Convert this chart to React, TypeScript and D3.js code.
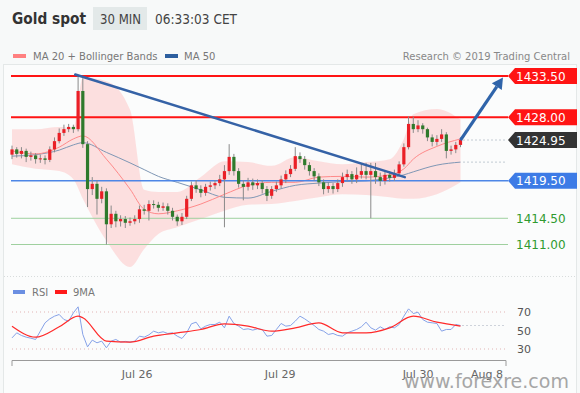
import React from 'react';
import * as d3 from 'd3';

// 30 min candles, Gold spot (closes, highs, lows); open = previous close
const firstOpen = 1423.0;
const closes = [
  1423.7, 1423.1, 1423.5, 1422.7, 1422.9, 1422.4, 1422.5, 1422.3, 1423.7, 1424.8,
  1425.9, 1426.4, 1426.7, 1426.4, 1431.5, 1424.4, 1418.4, 1419.1, 1417.1, 1418.1,
  1413.7, 1415.1, 1414.1, 1414.4, 1413.9, 1414.1, 1414.4, 1415.7, 1415.5, 1416.4,
  1416.3, 1415.9, 1416.1, 1415.5, 1414.7, 1414.1, 1414.7, 1417.1, 1418.9, 1418.4,
  1417.9, 1418.7, 1418.9, 1419.2, 1419.7, 1420.8, 1422.7, 1420.8, 1419.1, 1418.7,
  1419.3, 1418.9, 1419.2, 1418.4, 1417.5, 1418.4, 1418.9, 1419.7, 1420.4, 1421.1,
  1422.8, 1422.4, 1421.6, 1420.8, 1420.1, 1419.3, 1418.4, 1418.8, 1418.4, 1419.2,
  1420.0, 1420.4, 1419.7, 1420.3, 1420.8, 1420.3, 1420.8, 1420.0, 1419.5, 1420.3,
  1419.9, 1420.5, 1421.7, 1424.0, 1427.1, 1426.4, 1426.9, 1426.4, 1425.3, 1424.7,
  1425.1, 1425.7, 1423.5, 1423.7, 1424.3, 1424.95,
];
const highs = [
  1424.2, 1424.0, 1424.0, 1423.8, 1423.4, 1423.2, 1423.0, 1422.9, 1424.1, 1425.3,
  1426.5, 1427.0, 1427.1, 1427.0, 1433.6, 1433.2, 1424.8, 1420.0, 1419.6, 1418.7,
  1418.5, 1416.2, 1415.5, 1414.9, 1414.8, 1414.6, 1414.9, 1416.2, 1416.3, 1416.9,
  1416.9, 1416.7, 1416.6, 1416.5, 1415.9, 1415.0, 1415.2, 1417.5, 1419.4, 1419.6,
  1418.9, 1419.1, 1419.4, 1419.6, 1420.3, 1421.6, 1424.4, 1423.1, 1421.2, 1419.6,
  1419.9, 1419.8, 1419.7, 1419.6, 1418.8, 1418.8, 1419.4, 1420.2, 1420.9, 1421.6,
  1424.0, 1423.3, 1422.8, 1422.0, 1421.2, 1420.5, 1419.7, 1419.3, 1419.2, 1419.7,
  1420.6, 1421.0, 1420.8, 1421.3, 1421.8, 1421.9, 1421.9, 1421.9, 1420.6, 1420.8,
  1420.8, 1421.0, 1422.1, 1424.5, 1428.1, 1428.1, 1427.6, 1427.2, 1426.6, 1425.7,
  1425.6, 1426.4, 1426.0, 1424.2, 1424.7, 1425.3,
];
const lows = [
  1422.4, 1422.6, 1422.5, 1422.0, 1422.2, 1421.8, 1421.9, 1421.7, 1422.0, 1423.3,
  1424.5, 1425.5, 1426.0, 1425.9, 1426.1, 1423.9, 1416.0, 1417.6, 1415.0, 1416.5,
  1411.0, 1413.2, 1413.3, 1413.4, 1413.2, 1413.5, 1413.7, 1413.9, 1415.0, 1414.2,
  1415.8, 1415.4, 1415.5, 1415.0, 1414.2, 1413.5, 1413.6, 1414.4, 1416.8, 1417.9,
  1417.3, 1417.5, 1418.2, 1418.4, 1418.8, 1413.3, 1420.3, 1420.2, 1418.6, 1416.9,
  1418.2, 1418.3, 1418.4, 1417.8, 1416.8, 1417.1, 1418.0, 1418.5, 1419.2, 1420.0,
  1420.8, 1421.9, 1421.0, 1420.2, 1419.5, 1418.8, 1417.7, 1417.9, 1417.8, 1418.0,
  1418.7, 1419.5, 1419.1, 1419.2, 1419.8, 1419.7, 1414.5, 1419.1, 1418.8, 1419.0,
  1419.4, 1419.5, 1420.2, 1421.4, 1423.7, 1425.9, 1426.0, 1425.8, 1424.8, 1424.1,
  1424.2, 1424.7, 1422.5, 1423.0, 1423.2, 1424.0,
];

// indicators read at these candle indices
const indIdx = [0, 5, 10, 13, 15, 20, 25, 28, 31, 35, 40, 45, 50, 55, 60, 65, 70, 75, 80, 83, 85, 90, 95];
const ma20 = [1423.5, 1423.1, 1424.0, 1425.1, 1425.5, 1422.4, 1418.4, 1415.7, 1415.1, 1415.5, 1416.4, 1417.7, 1418.9, 1419.3, 1419.3, 1420.0, 1420.1, 1420.0, 1420.3, 1421.1, 1422.4, 1424.1, 1425.1];
const bbUpper = [1426.4, 1426.4, 1426.7, 1426.6, 1433.3, 1432.8, 1429.0, 1418.3, 1418.0, 1418.0, 1420.0, 1422.1, 1422.0, 1421.5, 1422.7, 1422.1, 1421.7, 1422.0, 1422.4, 1425.1, 1428.4, 1429.1, 1427.7];
const bbLower = [1421.7, 1421.1, 1420.8, 1419.7, 1417.1, 1411.5, 1408.0, 1410.4, 1412.4, 1413.3, 1414.4, 1415.5, 1416.3, 1416.4, 1416.8, 1417.3, 1417.7, 1417.6, 1417.3, 1417.1, 1417.1, 1417.7, 1419.3];
const ma50 = [1422.8, 1423.0, 1423.6, 1424.3, 1424.6, 1423.3, 1421.9, 1421.0, 1420.1, 1419.3, 1418.3, 1417.3, 1417.2, 1418.1, 1418.9, 1419.2, 1419.4, 1419.5, 1419.9, 1420.3, 1420.7, 1421.6, 1422.0];

// key levels
const levels = [1433.5, 1428.0, 1419.5, 1414.5, 1411.0];
const levelKinds = ['res', 'res', 'pivot', 'sup', 'sup'];
const lastPrice = 1424.95;

// trendline and projection arrow (candle index, price)
const trendIdx = [13.4, 83.2];
const trendPrice = [1433.7, 1420.0];
const arrowIdx = [95, 104];
const arrowPrice = [1424.95, 1433.3];

// RSI per candle, 9MA every 5 candles
const rsi = [
  42.0, 47.5, 44.6, 42.8, 41.7, 40.3, 49.3, 58.3, 62.6, 65.5,
  67.3, 61.9, 60.1, 69.1, 75.6, 45.7, 32.3, 39.6, 36.7, 38.5,
  31.3, 38.5, 40.3, 37.4, 38.2, 37.4, 38.5, 43.9, 42.8, 45.3,
  49.3, 47.5, 48.6, 46.8, 47.5, 43.9, 41.4, 47.5, 57.2, 59.0,
  51.8, 54.7, 56.5, 56.5, 59.0, 52.9, 65.5, 57.6, 54.7, 51.1,
  51.8, 50.4, 51.8, 51.1, 43.9, 44.6, 51.1, 57.6, 54.7, 55.4,
  60.1, 65.5, 62.6, 59.0, 55.4, 51.1, 49.3, 45.7, 46.8, 44.6,
  43.9, 47.5, 49.3, 51.1, 54.0, 59.0, 52.9, 50.4, 54.0, 51.1,
  54.0, 52.9, 56.5, 65.5, 73.4, 68.3, 69.8, 61.9, 59.0, 58.3,
  57.6, 49.3, 51.1, 51.1, 56.5, 55.4,
];
const rsiMaIdx = [0, 5, 10, 14, 15, 20, 25, 30, 35, 40, 45, 50, 55, 60, 65, 70, 75, 80, 85, 90, 95];
const rsiMa = [54.7, 42.8, 54.0, 65.5, 63.7, 38.5, 37.4, 43.9, 47.5, 51.1, 57.2, 54.7, 49.3, 52.9, 58.3, 47.5, 47.5, 52.9, 65.5, 59.0, 54.7];
const rsiTicks = [70, 50, 30];

const dateLabels = ['Jul 26', 'Jul 29', 'Jul 30', 'Aug 8'];
const dateIdx = [26.5, 56.8, 86, 100.6];

const FONT = '"DejaVu Sans", Verdana, sans-serif';
const UP = '#ea1f26';
const DOWN = '#2f7a2c';

export default function App() {
  const width = 580;
  const height = 393;

  const x = d3.scaleLinear().domain([0, 95]).range([12, 460.5]);
  const y = d3.scaleLinear().domain([1411, 1433.5]).range([244.5, 76]);
  const ry = d3.scaleLinear().domain([30, 70]).range([349, 312]);

  const opens = closes.map((c, i) => (i === 0 ? firstOpen : closes[i - 1]));

  const band = d3.area<number>()
    .x((d, i) => x(indIdx[i]))
    .y0((d, i) => y(bbLower[i]))
    .y1(d => y(d))
    .curve(d3.curveMonotoneX);
  const maLine = d3.line<number>()
    .x((d, i) => x(indIdx[i]))
    .y(d => y(d))
    .curve(d3.curveMonotoneX);
  const rsiLine = d3.line<number>().x((d, i) => x(i)).y(d => ry(d));
  const rsiMaLine = d3.line<number>()
    .x((d, i) => x(rsiMaIdx[i]))
    .y(d => ry(d))
    .curve(d3.curveMonotoneX);

  const levelColor = (k: string) => (k === 'res' ? '#ff1414' : k === 'pivot' ? '#4d86e6' : '#9fd09f');
  const tagFill = (k: string) => (k === 'res' ? '#ff1414' : k === 'pivot' ? '#3d7be6' : 'none');

  const tag = (py: number) =>
    `508,${py} 515,${py - 8} 577,${py - 8} 577,${py + 8} 515,${py + 8}`;

  // arrow geometry
  const ax0 = x(arrowIdx[0]), ay0 = y(arrowPrice[0]);
  const ax1 = x(arrowIdx[1]), ay1 = y(arrowPrice[1]);
  const ang = Math.atan2(ay1 - ay0, ax1 - ax0);
  const headLen = 11, headW = 6;
  const bx = ax1 - headLen * Math.cos(ang), by = ay1 - headLen * Math.sin(ang);
  const head = [
    [ax1, ay1],
    [bx + headW * Math.sin(ang), by - headW * Math.cos(ang)],
    [bx - headW * Math.sin(ang), by + headW * Math.cos(ang)],
  ].map(p => p.join(',')).join(' ');

  const lastRsi = rsi[rsi.length - 1];
  const lastMa50 = ma50[ma50.length - 1];

  return (
    <div>
      <style>{`body{margin:0}`}</style>
      <svg width={width} height={height} style={{ display: 'block', fontFamily: FONT }}>
        <rect x={0} y={0} width={width} height={height} fill="#f7f9f9" />
        <rect x={3.5} y={64.5} width={573} height={330} fill="#fbfcfc" stroke="#e4e8e8" />

        {/* header */}
        <text x={12} y={24} fontSize={15} fontWeight="bold" fill="#333" textLength={74} lengthAdjust="spacingAndGlyphs">Gold spot</text>
        <rect x={93} y={7} width={54} height={23} fill="#e3e9e9" />
        <text x={100} y={24} fontSize={13.5} fill="#444" textLength={41} lengthAdjust="spacingAndGlyphs">30 MIN</text>
        <text x={155} y={24} fontSize={13.5} fill="#444" textLength={82} lengthAdjust="spacingAndGlyphs">06:33:03 CET</text>

        {/* legend */}
        <rect x={13} y={54} width={13} height={4} fill="#ff8080" />
        <text x={33} y={60} fontSize={10} fill="#777">MA 20 + Bollinger Bands</text>
        <rect x={165} y={54} width={13} height={4} fill="#2d5f9f" />
        <text x={184} y={60} fontSize={10} fill="#777">MA 50</text>
        <text x={570} y={60} fontSize={10} fill="#888" textAnchor="end">Research © 2019 Trading Central</text>

        {/* Bollinger band + MAs */}
        <path d={band(bbUpper) || ''} fill="#ffb3b3" opacity={0.4} />
        <path d={maLine(ma50) || ''} fill="none" stroke="#7f97b5" strokeWidth={1} />
        <path d={maLine(ma20) || ''} fill="none" stroke="#ff8a8a" strokeWidth={1} />

        {/* key levels */}
        {levels.map((lv, i) => (
          <line key={i} x1={11} x2={508} y1={y(lv)} y2={y(lv)}
            stroke={levelColor(levelKinds[i])}
            strokeWidth={levelKinds[i] === 'res' ? 2 : levelKinds[i] === 'pivot' ? 1.5 : 1} />
        ))}

        {/* candles */}
        {closes.map((c, i) => {
          const o = opens[i];
          const up = c >= o;
          const top = y(Math.max(o, c));
          const bot = y(Math.min(o, c));
          return (
            <g key={i}>
              <line x1={x(i)} x2={x(i)} y1={y(highs[i])} y2={y(lows[i])} stroke="#8a8a8a" strokeWidth={1} />
              <rect x={x(i) - 1.6} y={top} width={3.2} height={Math.max(1, bot - top)} fill={up ? UP : DOWN} />
            </g>
          );
        })}

        {/* trendline */}
        <line x1={x(trendIdx[0])} y1={y(trendPrice[0])} x2={x(trendIdx[1])} y2={y(trendPrice[1])}
          stroke="#3562a6" strokeWidth={2.5} strokeLinecap="round" />

        {/* dotted extensions */}
        <line x1={x(95) + 3} x2={505} y1={y(lastPrice)} y2={y(lastPrice)} stroke="#8a9aaa" strokeDasharray="1,3" />
        <line x1={x(95) + 3} x2={505} y1={y(lastMa50)} y2={y(lastMa50)} stroke="#8a9aaa" strokeDasharray="1,3" />

        {/* projection arrow */}
        <line x1={ax0} y1={ay0} x2={bx} y2={by} stroke="#2f64aa" strokeWidth={3.2} />
        <polygon points={head} fill="#2f64aa" />

        {/* level labels */}
        {levels.map((lv, i) => {
          const k = levelKinds[i];
          const py = y(lv);
          return (
            <g key={i}>
              {k !== 'sup' && <polygon points={tag(py)} fill={tagFill(k)} />}
              <text x={516} y={py + 4.5} fontSize={12} fill={k === 'sup' ? '#2f9a2f' : '#fff'}>
                {d3.format('.2f')(lv)}
              </text>
            </g>
          );
        })}
        <polygon points={tag(y(lastPrice))} fill="#333" />
        <text x={516} y={y(lastPrice) + 4.5} fontSize={12} fill="#fff">{d3.format('.2f')(lastPrice)}</text>

        {/* panel separator */}
        <line x1={4} x2={576} y1={276.5} y2={276.5} stroke="#d8dcdc" strokeDasharray="1,2" />

        {/* RSI legend */}
        <rect x={13} y={290} width={12} height={4} fill="#6b8fe2" />
        <text x={32} y={296} fontSize={10} fill="#777">RSI</text>
        <rect x={55} y={290} width={12} height={4} fill="#ff1a1a" />
        <text x={73} y={296} fontSize={10} fill="#777">9MA</text>

        {/* RSI grid */}
        {rsiTicks.map(t => (
          <g key={t}>
            {t !== 50 && <line x1={12} x2={505} y1={ry(t)} y2={ry(t)} stroke="#e2b4b4" strokeDasharray="1,3" />}
            <text x={517} y={ry(t) + 4} fontSize={11} fill="#555">{t}</text>
          </g>
        ))}
        <line x1={x(95) + 2} x2={505} y1={ry(lastRsi)} y2={ry(lastRsi)} stroke="#a0aabb" strokeDasharray="1,3" />
        <path d={rsiLine(rsi) || ''} fill="none" stroke="#86a2e8" strokeWidth={1} />
        <path d={rsiMaLine(rsiMa) || ''} fill="none" stroke="#ff2a2a" strokeWidth={1.2} />

        {/* x axis */}
        <path d="M12,366V360.5H506V366" fill="none" stroke="#9a9a9a" />
        {dateLabels.map((l, i) => (
          <text key={l} x={x(dateIdx[i])} y={378} fontSize={11} fill="#666" textAnchor="middle">{l}</text>
        ))}

        {/* watermark */}
        <text x={404} y={388} fontSize={19} fill="#8a8a8a" opacity={0.75}>www.forexre.com</text>
      </svg>
    </div>
  );
}
